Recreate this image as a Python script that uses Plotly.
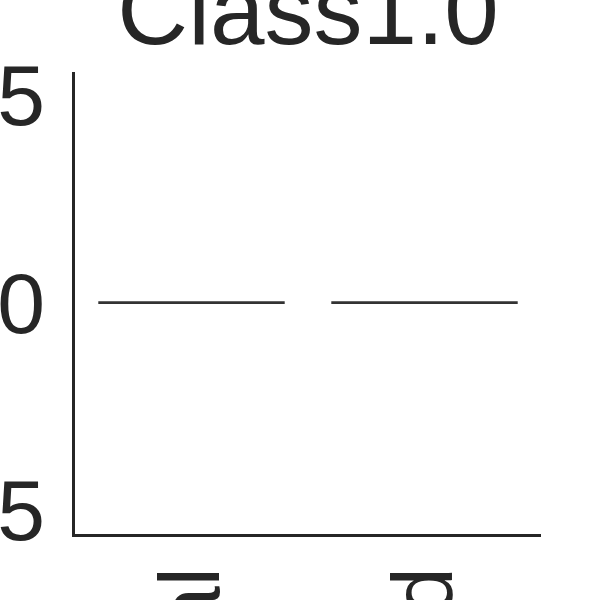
import plotly.graph_objects as go

categories = ["Actual", "Predicted"]
q1_vals = [0.0, 0.0]
median_vals = [0.0, 0.0]
q3_vals = [0.0, 0.0]
lower_vals = [0.0, 0.0]
upper_vals = [0.0, 0.0]
y_tickvals = [-0.05, 0.0, 0.05]
y_ticktext = ["\u22120.05", "0.00", "0.05"]
title_text = "Class1.0"

INK = "#262626"
FONT = "Liberation Sans, Arial, sans-serif"

fig = go.Figure()
fig.add_trace(go.Box(
    x=categories,
    q1=q1_vals, median=median_vals, q3=q3_vals,
    lowerfence=lower_vals, upperfence=upper_vals,
    width=0.8,
    line=dict(color="#333333", width=2.7),
    fillcolor="rgba(0,0,0,0)",
    whiskerwidth=0,
    showlegend=False,
    hoverinfo="skip",
))

fig.update_layout(
    width=600, height=600,
    margin=dict(l=75, r=59, t=72, b=66, autoexpand=False),
    paper_bgcolor="white", plot_bgcolor="white",
    font=dict(family=FONT, color=INK),
    title=dict(text=title_text, x=308/600, xanchor="center",
               y=(600-44)/600, yanchor="bottom", yref="container",
               font=dict(size=98, color=INK, family=FONT)),
    xaxis=dict(range=[-0.5, 1.5], showline=True, linecolor=INK, linewidth=2.5,
               showgrid=False, zeroline=False, ticks="", tickangle=-90,
               tickfont=dict(size=86, color=INK, family=FONT), automargin=False,
               ticklabelstandoff=-4),
    yaxis=dict(range=[-0.0558, 0.0556], showline=True, linecolor=INK, linewidth=2.5,
               showgrid=False, zeroline=False, ticks="",
               tickvals=y_tickvals, ticktext=y_ticktext,
               tickfont=dict(size=86, color=INK, family=FONT), automargin=False,
               ticklabelstandoff=10),
)

fig.write_html(
    "out.html",
    config={"displayModeBar": False},
    post_script="document.body.style.margin='0';document.body.style.overflow='hidden';",
)
